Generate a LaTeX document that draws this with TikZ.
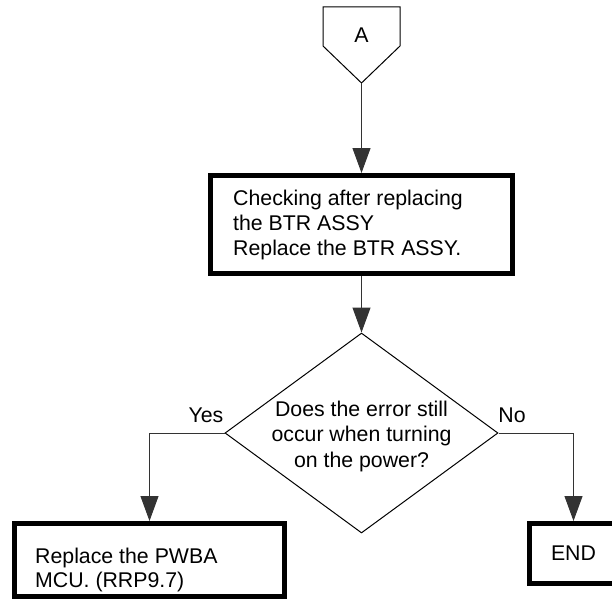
\documentclass[tikz,border=0pt]{standalone}
\usepackage{fontspec}
\setmainfont{Liberation Sans}
\usetikzlibrary{arrows.meta,shapes.geometric}
\begin{document}
\begin{tikzpicture}[x=1pt,y=-1pt,
  txt/.style={font=\fontsize{21.3}{25}\selectfont, inner sep=0pt},
  thickbox/.style={draw, line width=5pt, rectangle, inner sep=0pt, font=\fontsize{21.3}{25}\selectfont},
  thin/.style={line width=1pt},
  conn/.style={line width=1pt, draw=black!80, -{Triangle[length=25pt,width=18pt]}},
  ]
\useasboundingbox (0,0) rectangle (612,599);
% off-page connector
\draw[thin] (323,7) -- (400,7) -- (400,46) -- (361.5,83) -- (323,46) -- cycle;
\node[txt] (A) at (361.5,35) {A};
\coordinate (atip) at (361.5,83);
% process box
\node[thickbox, minimum width=302pt, minimum height=98pt] (b1) at (361.5,224.5) {};
\node[txt, align=left, anchor=west] (t1) at (233,225) {Checking after replacing\\the BTR ASSY\\Replace the BTR ASSY.};
% decision
\node[diamond, draw, thin, minimum width=273pt, minimum height=200pt, inner sep=0pt] (d) at (361.5,433) {};
\node[txt, align=center, font=\fontsize{21.3}{25.5}\selectfont] (t2) at (361.5,436) {Does the error still\\occur when turning\\on the power?};
% outcomes
\node[thickbox, minimum width=270pt, minimum height=73pt] (b2) at (149.5,560) {};
\node[txt, align=left, anchor=west, font=\fontsize{21.3}{23.5}\selectfont] (t3) at (35,570) {Replace the PWBA\\MCU. (RRP9.7)};
\node[thickbox, minimum width=88pt, minimum height=60pt] (e) at (573.5,553.5) {END};
\node[txt] (yes) at (206,415) {Yes};
\node[txt] (no) at (512,415) {No};
% connectors
\draw[conn] (atip) -- (b1.north);
\draw[conn] (b1.south) -- (d.north);
\draw[conn] (d.west) -| (b2.north);
\draw[conn] (d.east) -| (e.north);
\end{tikzpicture}
\end{document}
